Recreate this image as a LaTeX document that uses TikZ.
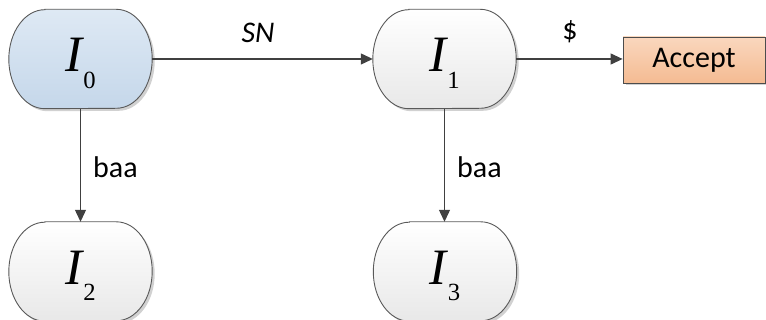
\documentclass[tikz,border=0pt]{standalone}
\usepackage{fontspec}
\setmainfont{Carlito}
\newfontfamily\timesfont{Liberation Serif}
\usetikzlibrary{arrows.meta,shadows}

% state name: italic I with an upright, lowered index
\newcommand\stname[1]{{\timesfont\fontsize{51}{51}\selectfont\itshape I}\kern1pt\raisebox{-16.6pt}{\timesfont\fontsize{24.7}{25}\selectfont #1}}

% stadium outline drawn round a named state node
\newcommand\stadium[2]{%
  \draw[stadiumline,#2]
    ([xshift=36pt]#1.north west) -- ([xshift=-36pt]#1.north east)
    arc[start angle=90,end angle=-90,x radius=36pt,y radius=49.5pt]
    -- ([xshift=36pt]#1.south west)
    arc[start angle=270,end angle=90,x radius=36pt,y radius=49.5pt]
    -- cycle;}

\tikzset{
  x=1pt, y=1pt,
  statenode/.style={minimum width=143pt, minimum height=99pt, inner sep=0pt,
    text height=40pt, text depth=14.6pt},
  stadiumline/.style={draw=black!65, line width=0.9pt,
    drop shadow={shadow xshift=2.5pt, shadow yshift=-2.5pt, opacity=0.18, fill=black}},
  bluefill/.style={top color={rgb,255:red,222;green,233;blue,244}, bottom color={rgb,255:red,197;green,215;blue,234}},
  greyfill/.style={top color=white, bottom color=black!9},
  acceptbox/.style={draw=black!70, line width=0.8pt, minimum width=142pt, minimum height=46pt,
    inner sep=0pt, top color={rgb,255:red,250;green,215;blue,190},
    bottom color={rgb,255:red,244;green,187;blue,146},
    drop shadow={shadow xshift=2.5pt, shadow yshift=-2.5pt, opacity=0.18, fill=black},
    font=\fontsize{30}{30}\selectfont},
  link/.style={draw=black!75, line width=1.2pt, -{Triangle[length=12pt,width=11pt]}},
  edgelabel/.style={font=\fontsize{30}{30}\selectfont, inner sep=0pt}
}

\begin{document}
\begin{tikzpicture}
\useasboundingbox (0,0) rectangle (766,320);

% states
\node[statenode] (i0) at (80.5,261) {};
\node[statenode] (i1) at (444.5,261) {};
\node[statenode] (i2) at (80.5,48.5) {};
\node[statenode] (i3) at (445,48.5) {};

\stadium{i0}{bluefill}
\stadium{i1}{greyfill}
\stadium{i2}{greyfill}
\stadium{i3}{greyfill}

\node[statenode] at (i0.center) {\stname{0}};
\node[statenode] at (i1.center) {\stname{1}};
\node[statenode] at (i2.center) {\stname{2}};
\node[statenode] at (i3.center) {\stname{3}};

\node[acceptbox] (acc) at (694,260) {Accept};

% transitions
\draw[link] (i0.east) -- (i1.west);
\draw[link] (i1.east) -- (i1.east -| acc.west);
\draw[link] (i0.south) -- (i2.north);
\draw[link] (i1.south) -- (i1.south |- i3.north);

\node[edgelabel] (lsn) at (258,287) {\itshape SN};
\node[edgelabel] (ldollar) at (570,288) {\$};
\node[edgelabel, anchor=west] (lbaa1) at (93,153) {baa};
\node[edgelabel, anchor=west] (lbaa2) at (457,153) {baa};
\end{tikzpicture}
\end{document}
